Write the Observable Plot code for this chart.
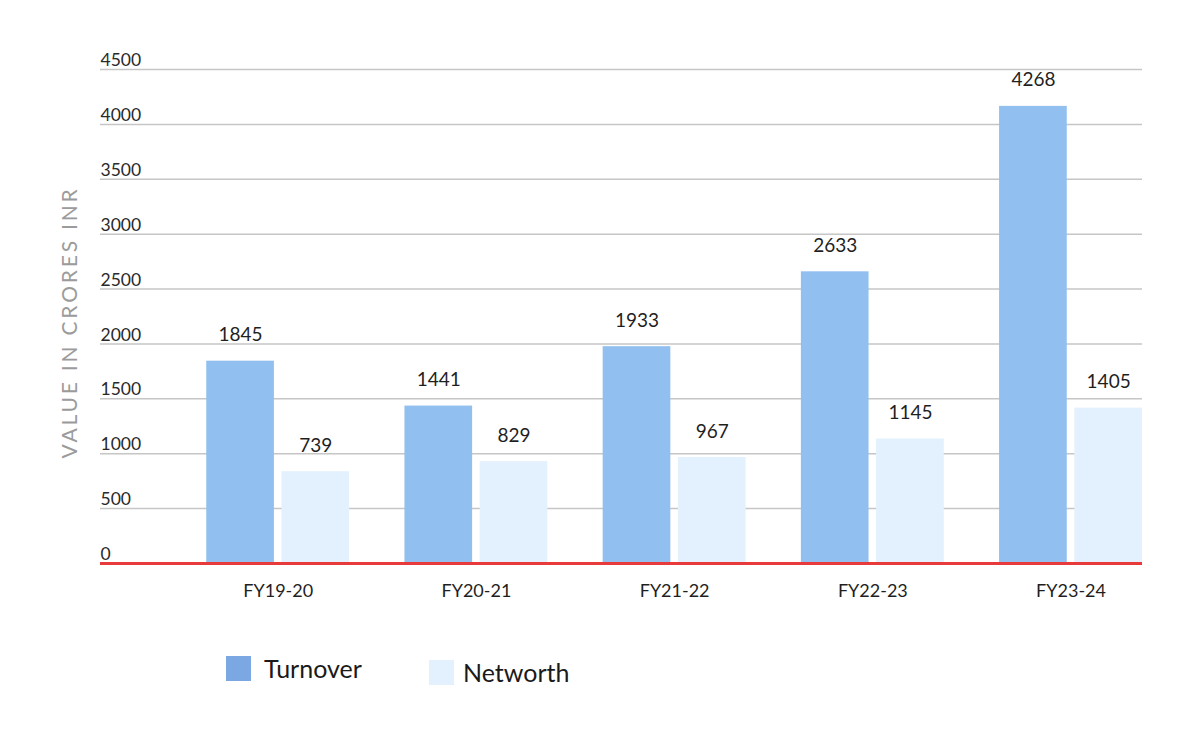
<!DOCTYPE html>
<html>
<head>
<meta charset="utf-8">
<script src="https://cdn.jsdelivr.net/npm/d3@7"></script>
<script src="https://cdn.jsdelivr.net/npm/@observablehq/plot@0.6"></script>
<style>
  body { margin: 0; background: #fff; font-family: Lato, "Open Sans", sans-serif; }
  #wrap { position: relative; width: 1200px; height: 746px; }
  #legend { position: relative; height: 126px; font-family: Lato, sans-serif; color: #1a1a1a; }
  .item { position: absolute; display: flex; align-items: center; font-size: 25px; }
  .sw { width: 25px; height: 25px; }
</style>
</head>
<body>
<div id="wrap">
  <div id="chart"></div>
  <div id="legend"></div>
</div>
<script>
const categories = ["FY19-20", "FY20-21", "FY21-22", "FY22-23", "FY23-24"];
// bar heights as drawn
const turnover = [1843, 1434, 1975, 2657, 4164];
const networth = [836, 927, 966, 1134, 1415];
// value labels as printed
const turnoverLabels = ["1845", "1441", "1933", "2633", "4268"];
const networthLabels = ["739", "829", "967", "1145", "1405"];
const yTicks = [0, 500, 1000, 1500, 2000, 2500, 3000, 3500, 4000, 4500];
const seriesNames = ["Turnover", "Networth"];
const barColors = ["#91BFEF", "#E3F0FD"];
const legendColors = ["#7BA8E2", "#E3F0FD"];

const tData = categories.map((c, i) => ({category: c, value: turnover[i], label: turnoverLabels[i]}));
const nData = categories.map((c, i) => ({category: c, value: networth[i], label: networthLabels[i]}));

const chart = Plot.plot({
  width: 1200,
  height: 620,
  marginLeft: 100,
  marginRight: 58,
  marginTop: 69,
  marginBottom: 57,
  style: {fontFamily: "Lato, sans-serif", background: "#fff", overflow: "visible"},
  x: {domain: categories, paddingInner: 0.279, paddingOuter: 0.268, align: 1, round: false, label: null},
  y: {domain: [0, 4500], label: null},
  marks: [
    Plot.ruleY(yTicks.filter(d => d > 0), {stroke: "#C6C6C6", strokeWidth: 1.5}),
    Plot.barY(tData, {x: "category", y: "value", fill: barColors[0], insetRight: 75.25, insetLeft: 0}),
    Plot.barY(nData, {x: "category", y: "value", fill: barColors[1], insetLeft: 75.25, insetRight: 0}),
    Plot.ruleY([0], {stroke: "#E8393B", strokeWidth: 3}),
    Plot.text(tData, {x: "category", y: "value", text: "label", dx: -37.6, dy: -26, fontSize: 19, fill: "#1f1f1f"}),
    Plot.text(nData, {x: "category", y: "value", text: "label", dx: 37.6, dy: -26, fontSize: 19, fill: "#1f1f1f"}),
    Plot.axisY(yTicks, {anchor: "left", tickSize: 0, tickPadding: 0, textAnchor: "start", dy: -9, fontSize: 17.5, fill: "#2a2a2a", label: null, tickFormat: d => String(d)}),
    Plot.axisX({anchor: "bottom", tickSize: 0, tickPadding: 21, fontSize: 18, fill: "#1f1f1f", label: null}),
    Plot.text(["VALUE IN CRORES INR"], {frameAnchor: "left", text: d => d, rotate: -90, textAnchor: "middle", dx: -30, dy: 6, fontSize: 21, fill: "#9B9B9B"})
  ]
});
document.getElementById("chart").appendChild(chart);
// letter spacing for y title
chart.querySelectorAll("text").forEach(t => { if (t.textContent === "VALUE IN CRORES INR") t.setAttribute("letter-spacing", "2.8"); });

const legend = document.getElementById("legend");
const legendPos = [{left: 226, top: 33, gap: 13}, {left: 429, top: 37, gap: 9}];
seriesNames.forEach((name, i) => {
  const it = document.createElement("div");
  it.className = "item";
  it.style.left = legendPos[i].left + "px";
  it.style.top = legendPos[i].top + "px";
  const sw = document.createElement("div");
  sw.className = "sw";
  sw.style.background = legendColors[i];
  sw.style.marginRight = legendPos[i].gap + "px";
  const tx = document.createElement("span");
  tx.textContent = name;
  it.appendChild(sw);
  it.appendChild(tx);
  legend.appendChild(it);
});
</script>
</body>
</html>
